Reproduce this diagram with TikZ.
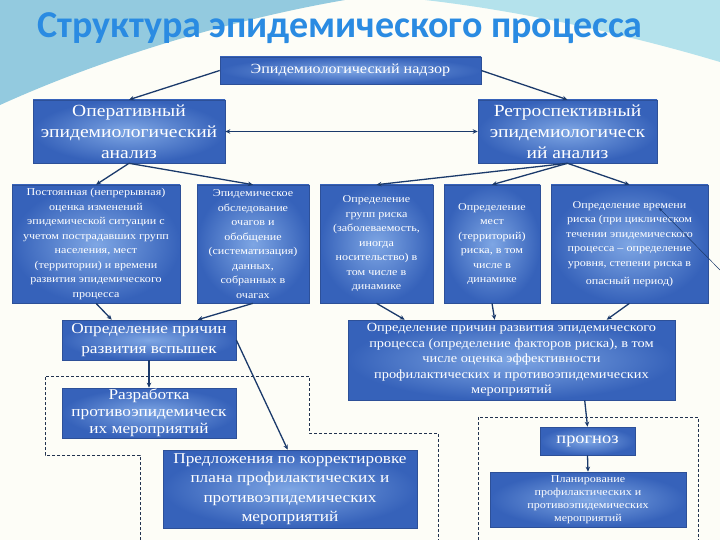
\documentclass[tikz,border=0pt]{standalone}
\usepackage{fontspec}
\setmainfont{Liberation Serif}[FakeStretch=1.15]
\newfontfamily\titlefont{Carlito}
\usetikzlibrary{arrows.meta}
\definecolor{EPBoxLight}{HTML}{7EA6E4}
\definecolor{EPBoxDark}{HTML}{3662BA}
\definecolor{EPEdge}{HTML}{2D5098}
\definecolor{EPLink}{HTML}{1B3A6B}
\definecolor{EPDash}{HTML}{22324F}
\definecolor{EPTitle}{HTML}{2A8BE2}
\definecolor{EPSkyA}{HTML}{93CADF}
\definecolor{EPSkyB}{HTML}{B4E2EC}
\definecolor{EPPaper}{HTML}{FDFDF7}

\begin{document}
\begin{tikzpicture}[x=1pt,y=-1pt,
  epbox/.style={draw=EPEdge,line width=0.6pt,inner color=EPBoxLight,outer color=EPBoxDark,
    text=white,align=center,inner xsep=2pt,inner ysep=0pt},
  eplink/.style={draw=EPLink,line width=1.3pt,>={Stealth[length=5pt,width=4.5pt]},->},
  epdash/.style={draw=EPDash,line width=0.7pt,dash pattern=on 3pt off 2pt}]
\path[use as bounding box,fill=EPPaper] (0,0) rectangle (720,540);
\fill[EPSkyA] (0,0) -- (345,0) .. controls (240,18) and (110,55) .. (0,105) -- cycle;
\fill[EPSkyB] (425,0) -- (720,0) -- (720,62) .. controls (640,38) and (530,12) .. (425,0) -- cycle;
\node[font=\titlefont\bfseries\fontsize{38}{40}\selectfont,text=EPTitle] (title) at (340,28) {Структура эпидемического процесса};
\node[epbox,minimum width=261pt,minimum height=27pt,font=\fontsize{14}{16}\selectfont] (nadzor) at (350.5,70.5) {Эпидемиологический надзор};
\node[epbox,minimum width=192pt,minimum height=63pt,font=\fontsize{17}{21}\selectfont] (oper) at (129,131.5) {Оперативный\\эпидемиологический\\анализ};
\node[epbox,minimum width=179pt,minimum height=63pt,font=\fontsize{17}{21}\selectfont] (retro) at (567.5,131.5) {Ретроспективный\\эпидемиологическ\\ий анализ};
\node[epbox,minimum width=168pt,minimum height=118pt,font=\fontsize{10.5}{14.5}\selectfont] (contin) at (96,244) {Постоянная (непрерывная)\\оценка изменений\\эпидемической ситуации с\\учетом пострадавших групп\\населения, мест\\(территории) и времени\\развития эпидемического\\процесса};
\node[epbox,minimum width=112pt,minimum height=118pt,font=\fontsize{10.5}{14.5}\selectfont] (focus) at (253,244) {Эпидемическое\\обследование\\очагов и\\обобщение\\(систематизация)\\данных,\\собранных в\\очагах};
\node[epbox,minimum width=113pt,minimum height=118pt,font=\fontsize{10.5}{14.5}\selectfont] (groups) at (376.5,244) {Определение\\групп риска\\(заболеваемость,\\иногда\\носительство) в\\том числе в\\динамике};
\node[epbox,minimum width=96pt,minimum height=118pt,font=\fontsize{10.5}{14.5}\selectfont] (places) at (492,244) {Определение\\мест\\(территорий)\\риска, в том\\числе в\\динамике};
\node[epbox,minimum width=157pt,minimum height=118pt,font=\fontsize{10.5}{14.5}\selectfont] (times) at (629.5,244) {Определение времени\\риска (при циклическом\\течении эпидемического\\процесса – определение\\уровня, степени риска в\\[4pt]опасный период)};
\node[epbox,minimum width=174pt,minimum height=40pt,font=\fontsize{15}{20}\selectfont] (causes) at (149,340) {Определение причин\\развития вспышек};
\node[epbox,minimum width=327pt,minimum height=80pt,font=\fontsize{12.5}{15.5}\selectfont] (factors) at (511.5,360) {Определение причин развития эпидемического\\процесса (определение факторов риска), в том\\числе оценка эффективности\\профилактических и противоэпидемических\\мероприятий};
\node[epbox,minimum width=174pt,minimum height=50pt,font=\fontsize{15}{17}\selectfont] (measures) at (149,413) {Разработка\\противоэпидемическ\\их мероприятий};
\node[epbox,minimum width=254pt,minimum height=78pt,font=\fontsize{15}{19.5}\selectfont] (proposals) at (290,489) {Предложения по корректировке\\плана профилактических и\\противоэпидемических\\мероприятий};
\node[epbox,minimum width=95pt,minimum height=28pt,font=\fontsize{16}{18}\selectfont] (forecast) at (587.5,441) {прогноз};
\node[epbox,minimum width=196pt,minimum height=55pt,font=\fontsize{10.5}{13}\selectfont] (planning) at (588,499.5) {Планирование\\профилактических и\\противоэпидемических\\мероприятий};
\coordinate (edgept) at (720,270);
\draw[epdash] (140,540) -- (140,455) -- (45,455) -- (45,376) -- (309,376) -- (309,433) -- (438,433) -- (438,540);
\draw[epdash] (478,540) -- (478,417) -- (698,417) -- (698,540);
\draw[eplink] (nadzor.west) -- (oper.north);
\draw[eplink] (nadzor.east) -- (retro.north);
\draw[eplink,<->] (oper.east) -- (retro.west);
\draw[eplink] (oper.south) -- (contin.north);
\draw[eplink] (oper.south) -- (focus.north);
\draw[eplink] (retro.south) -- (groups.north);
\draw[eplink] (retro.south) -- (places.north);
\draw[eplink] (retro.south) -- (times.north);
\draw[eplink] (contin.south) -- ([xshift=50pt]causes.north west);
\draw[eplink] (focus.south) -- ([xshift=136pt]causes.north west);
\draw[eplink] (groups.south) -- ([xshift=57pt]factors.north west);
\draw[eplink] (places.south) -- ([xshift=147pt]factors.north west);
\draw[eplink] (times.south) -- ([xshift=259pt]factors.north west);
\draw[eplink] (causes.south) -- (measures.north);
\draw[eplink] (causes.east) -- ([xshift=125pt]proposals.north west);
\draw[eplink] ([xshift=237pt]factors.south west) -- (forecast.north);
\draw[eplink] (forecast.south) -- (planning.north);
\draw[EPLink,line width=0.5pt,<-,>={Stealth[length=4pt,width=3pt]}] ([xshift=108pt,yshift=-23pt]times.north west) -- (edgept);
\end{tikzpicture}
\end{document}
